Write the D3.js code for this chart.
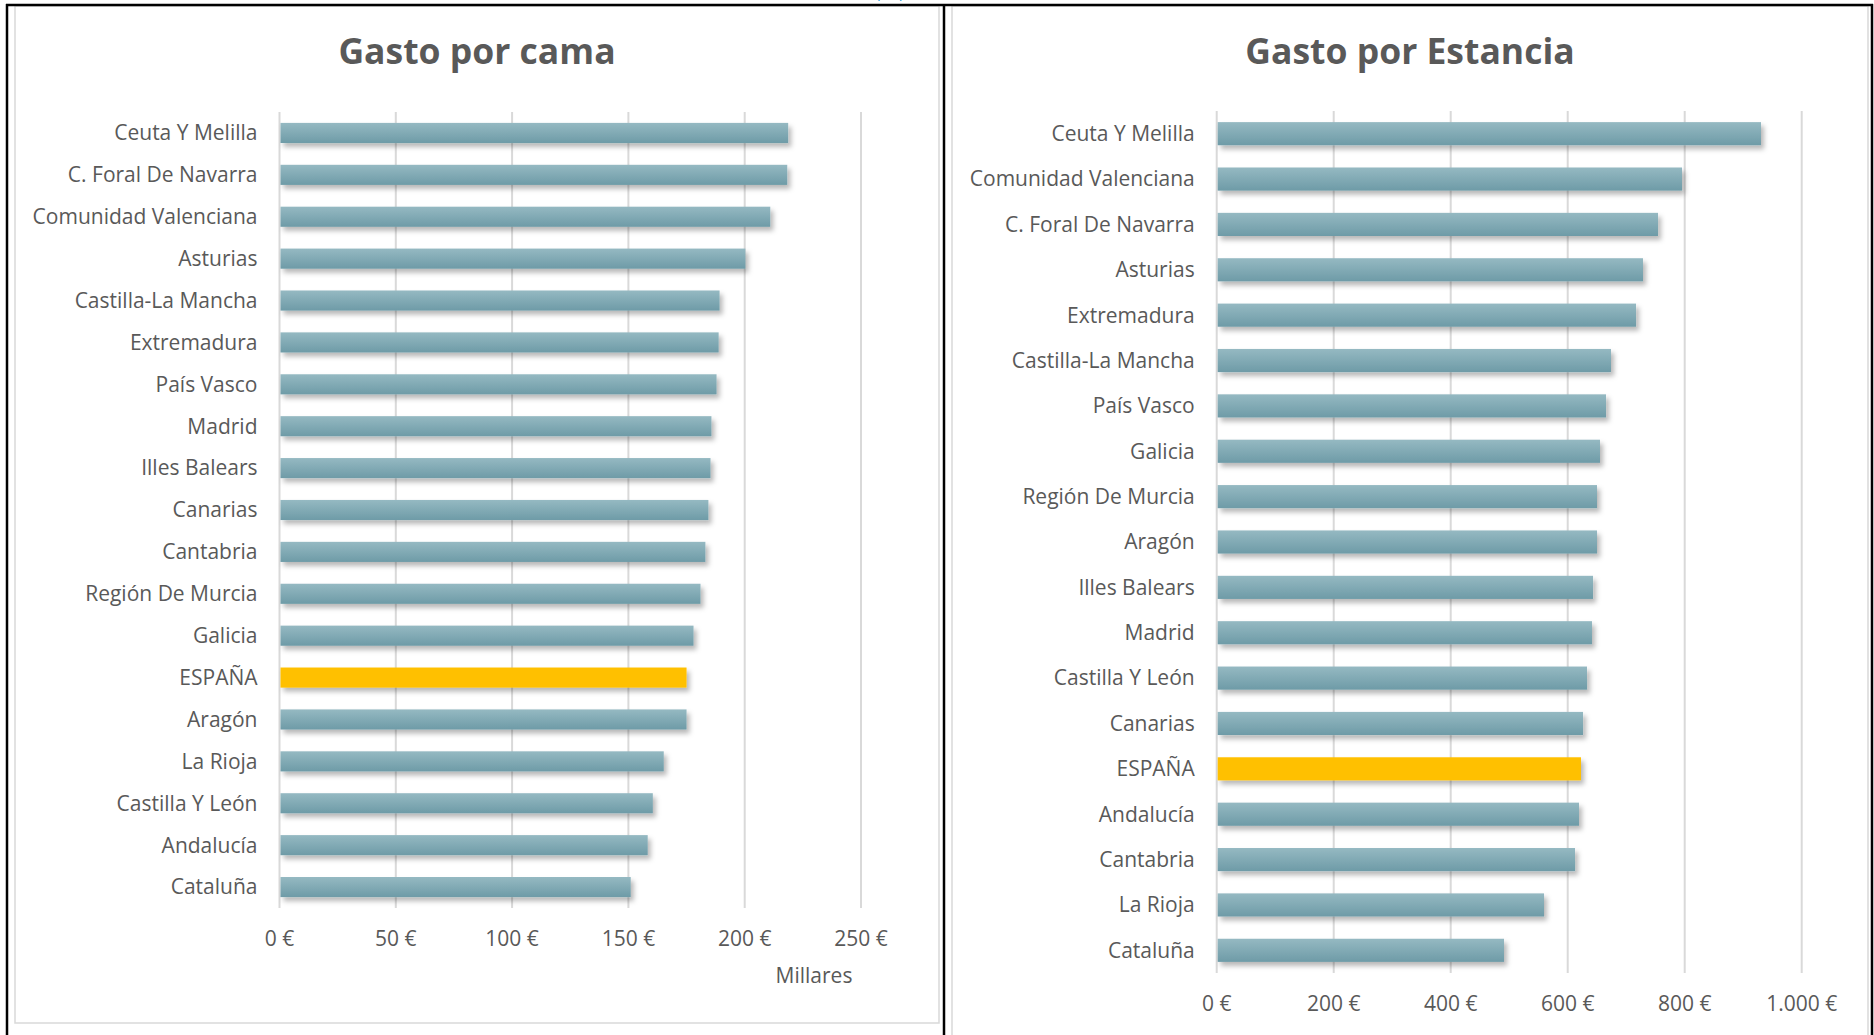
<!DOCTYPE html>
<html>
<head>
<meta charset="utf-8">
<script src="https://cdn.jsdelivr.net/npm/d3@7"></script>
<style>
  body { margin: 0; background: #fff; }
  svg { display: block; font-family: "Open Sans", sans-serif; }
</style>
</head>
<body>
<div id="chart"></div>
<script>
// Gasto por cama (miles de euros)
const camaRegiones = ["Ceuta Y Melilla", "C. Foral De Navarra", "Comunidad Valenciana", "Asturias",
    "Castilla-La Mancha", "Extremadura", "País Vasco", "Madrid", "Illes Balears", "Canarias",
    "Cantabria", "Región De Murcia", "Galicia", "ESPAÑA", "Aragón", "La Rioja",
    "Castilla Y León", "Andalucía", "Cataluña"];
const camaValores = [218.7, 218.3, 211.0, 200.3, 189.2, 188.8, 187.9, 185.7, 185.3, 184.4,
    183.1, 181.0, 178.0, 175.0, 175.0, 165.2, 160.5, 158.3, 151.0];
const camaTicks = [0, 50, 100, 150, 200, 250];

// Gasto por estancia (euros)
const estanciaRegiones = ["Ceuta Y Melilla", "Comunidad Valenciana", "C. Foral De Navarra", "Asturias",
    "Extremadura", "Castilla-La Mancha", "País Vasco", "Galicia", "Región De Murcia", "Aragón",
    "Illes Balears", "Madrid", "Castilla Y León", "Canarias", "ESPAÑA", "Andalucía",
    "Cantabria", "La Rioja", "Cataluña"];
const estanciaValores = [930.4, 795.4, 754.4, 728.7, 716.8, 674.0, 665.5, 655.2, 650.1, 650.1,
    643.3, 641.5, 633.0, 626.2, 622.7, 619.3, 612.5, 559.5, 491.1];
const estanciaTicks = [0, 200, 400, 600, 800, 1000];

const width = 1874;
const height = 1035;
const textColor = "#595959";

const es = d3.formatLocale({decimal: ",", thousands: ".", grouping: [3], currency: ["", " €"]});
const fmt = es.format(",");

const svg = d3.select("#chart")
    .append("svg")
    .attr("width", width)
    .attr("height", height)
    .attr("viewBox", `0 0 ${width} ${height}`);

const defs = svg.append("defs");

const grad = defs.append("linearGradient")
    .attr("id", "barGrad")
    .attr("x1", 0).attr("y1", 0)
    .attr("x2", 0).attr("y2", 1);
grad.append("stop").attr("offset", "0%").attr("stop-color", "#95b9c2");
grad.append("stop").attr("offset", "100%").attr("stop-color", "#6e9ba7");

defs.append("filter")
    .attr("id", "sombra")
    .attr("x", "-5%").attr("y", "-50%")
    .attr("width", "115%").attr("height", "250%")
    .append("feDropShadow")
    .attr("dx", 3).attr("dy", 4)
    .attr("stdDeviation", 2.5)
    .attr("flood-color", "#000")
    .attr("flood-opacity", 0.28);

// texto azul cortado en el borde superior, como en la captura
svg.append("text")
    .attr("x", 617)
    .attr("y", -3)
    .attr("textLength", 305)
    .attr("font-size", 15)
    .attr("fill", "#2e9bd6")
    .text("(Fuente: Ministerio de Sanidad, Estadística propia)");

const renderChart = (cfg) => {

    svg.append("rect")
        .attr("x", cfg.box[0])
        .attr("y", cfg.box[1])
        .attr("width", cfg.box[2] - cfg.box[0])
        .attr("height", cfg.box[3] - cfg.box[1])
        .attr("fill", "#fff")
        .attr("stroke", "#d9d9d9")
        .attr("stroke-width", 1.5);

    const xScale = d3.scaleLinear()
        .domain([cfg.ticks[0], cfg.ticks[cfg.ticks.length - 1]])
        .range([cfg.x0, cfg.x1]);

    const yScale = d3.scaleBand()
        .domain(cfg.regiones)
        .range([cfg.yTop, cfg.yBottom])
        .paddingInner(cfg.pad)
        .paddingOuter(cfg.pad / 2);

    const g = svg.append("g");

    g.selectAll(".grid")
        .data(cfg.ticks)
        .enter()
        .append("line")
        .attr("class", "grid")
        .attr("x1", d => xScale(d))
        .attr("x2", d => xScale(d))
        .attr("y1", cfg.yTop)
        .attr("y2", cfg.yBottom)
        .attr("stroke", "#d9d9d9")
        .attr("stroke-width", 2);

    g.selectAll(".bar")
        .data(cfg.regiones)
        .enter()
        .append("rect")
        .attr("class", "bar")
        .attr("x", xScale(0) + 1)
        .attr("y", d => yScale(d))
        .attr("width", (d, i) => xScale(cfg.valores[i]) - xScale(0) - 1)
        .attr("height", yScale.bandwidth())
        .attr("fill", d => d === "ESPAÑA" ? "#ffc000" : "url(#barGrad)")
        .attr("filter", "url(#sombra)");

    g.selectAll(".cat")
        .data(cfg.regiones)
        .enter()
        .append("text")
        .attr("class", "cat")
        .attr("x", cfg.x0 - 22)
        .attr("y", d => yScale(d) + yScale.bandwidth() / 2)
        .attr("dy", "0.35em")
        .attr("text-anchor", "end")
        .attr("font-size", 21)
        .attr("fill", textColor)
        .text(d => d);

    g.selectAll(".tick")
        .data(cfg.ticks)
        .enter()
        .append("text")
        .attr("class", "tick")
        .attr("x", d => xScale(d))
        .attr("y", cfg.yBottom + 31)
        .attr("dy", "0.35em")
        .attr("text-anchor", "middle")
        .attr("font-size", 21)
        .attr("fill", textColor)
        .text(d => fmt(d) + "\u00a0€");

    svg.append("text")
        .attr("x", (cfg.box[0] + cfg.box[2]) / 2)
        .attr("y", 64)
        .attr("text-anchor", "middle")
        .attr("font-size", 35.5)
        .attr("font-weight", "bold")
        .attr("fill", textColor)
        .text(cfg.titulo);

    if (cfg.unidad) {
        svg.append("text")
            .attr("x", cfg.unidad[0])
            .attr("y", cfg.unidad[1])
            .attr("dy", "0.35em")
            .attr("text-anchor", "middle")
            .attr("font-size", 21)
            .attr("fill", textColor)
            .text("Millares");
    }
};

renderChart({
    titulo: "Gasto por cama",
    regiones: camaRegiones,
    valores: camaValores,
    ticks: camaTicks,
    box: [15, 6, 939, 1023],
    x0: 279.5, x1: 861,
    yTop: 112, yBottom: 908,
    pad: 0.52,
    unidad: [814, 976]
});

renderChart({
    titulo: "Gasto por Estancia",
    regiones: estanciaRegiones,
    valores: estanciaValores,
    ticks: estanciaTicks,
    box: [952, 6, 1868, 1045],
    x0: 1216.7, x1: 1801.7,
    yTop: 111, yBottom: 973,
    pad: 0.49
});

// líneas negras del marco
const marco = [
    [6, 5, 1873, 5],
    [7, 4, 7, height],
    [944, 4, 944, height],
    [1872, 4, 1872, height]
];
svg.selectAll(".marco")
    .data(marco)
    .enter()
    .append("line")
    .attr("class", "marco")
    .attr("x1", d => d[0]).attr("y1", d => d[1])
    .attr("x2", d => d[2]).attr("y2", d => d[3])
    .attr("stroke", "#000")
    .attr("stroke-width", 2.5);
</script>
</body>
</html>
